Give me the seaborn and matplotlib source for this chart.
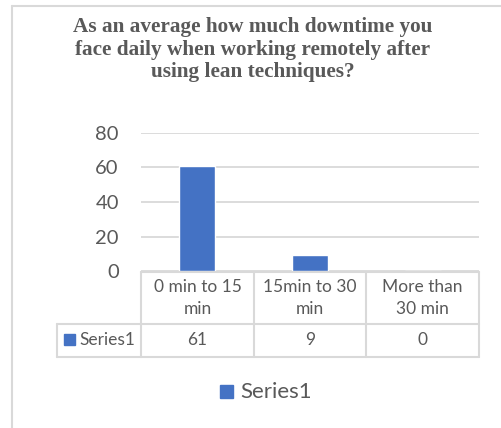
import matplotlib
matplotlib.use("Agg")
import matplotlib.pyplot as plt
import seaborn as sns
import pandas as pd
from matplotlib.patches import Rectangle

# ---- data ----
title_lines = ["As an average how much downtime you",
               "face daily when working remotely after",
               "using lean techniques?"]
categories = ["0 min to 15\nmin", "15min to 30\nmin", "More than\n30 min"]
values = [61, 9, 0]
series_name = "Series1"
y_ticks = [0, 20, 40, 60, 80]

BLUE = "#4472C4"
GRID = "#d9d9d9"
TXT = "#595959"
W, H = 502, 428

sns.set_theme(style="white")
plt.rcParams['font.family'] = ['Lato', 'DejaVu Sans']

fig = plt.figure(figsize=(W / 100, H / 100), dpi=100)

# overlay in pixel coordinates for layout (border, table, legend, title)
ov = fig.add_axes([0, 0, 1, 1], zorder=0)
ov.set_xlim(0, W)
ov.set_ylim(H, 0)
ov.axis("off")

# plot area
x0, x1, ytop, ybot = 141, 479, 133, 271
ax = fig.add_axes([x0 / W, 1 - ybot / H, (x1 - x0) / W, (ybot - ytop) / H], zorder=1)
ax.patch.set_alpha(0)
df = pd.DataFrame({"cat": categories, "val": values})
sns.barplot(data=df, x="cat", y="val", color=BLUE, width=0.32, ax=ax,
            saturation=1, zorder=3)
ax.set_xlim(-0.5, len(categories) - 0.5)
ax.set_ylim(0, 80)
ax.set_yticks(y_ticks)
ax.set_yticklabels([str(t) for t in y_ticks], fontsize=14.5, color=TXT)
ax.tick_params(axis="y", length=0, pad=16)
ax.set_xticks([])
ax.set_xlabel("")
ax.set_ylabel("")
for s in ax.spines.values():
    s.set_visible(False)
ax.yaxis.grid(True, color=GRID, lw=1.3)
ax.set_axisbelow(True)

# outer chart border
ov.plot([12, 12], [6, H + 5], color=GRID, lw=1.5)
ov.plot([12, W + 5], [6, 6], color=GRID, lw=1.5)

# title
for i, line in enumerate(title_lines):
    ov.text(253, 32 + i * 22.5, line, ha="center", va="baseline",
            fontsize=15.3, fontweight="bold", color=TXT,
            family=["Liberation Serif", "DejaVu Serif"])

# data table
cols = [141, 254, 366, 479]
r0, r1, r2 = 272, 324, 357
tl = dict(color=GRID, lw=1.5)
ov.plot([cols[0], cols[-1]], [r0, r0], **tl)
ov.plot([57, cols[-1]], [r1, r1], **tl)
ov.plot([57, cols[-1]], [r2, r2], **tl)
for c in cols:
    ov.plot([c, c], [r0, r2], **tl)
ov.plot([57, 57], [r1, r2], **tl)

for i, (cat, v) in enumerate(zip(categories, values)):
    cx = (cols[i] + cols[i + 1]) / 2
    l1, l2 = cat.split("\n")
    ov.text(cx, 287, l1, ha="center", va="center", fontsize=12.5, color=TXT)
    ov.text(cx, 309, l2, ha="center", va="center", fontsize=12.5, color=TXT)
    ov.text(cx, 340, str(v), ha="center", va="center", fontsize=12.5, color=TXT)

ov.add_patch(Rectangle((64, 334), 11, 11, color=BLUE))
ov.text(79, 340, series_name, ha="left", va="center", fontsize=12.5, color=TXT)

# legend
ov.add_patch(Rectangle((220, 385), 13, 13, color=BLUE))
ov.text(240, 391.5, series_name, ha="left", va="center", fontsize=16, color=TXT)

fig.savefig("out.png", dpi=100)
